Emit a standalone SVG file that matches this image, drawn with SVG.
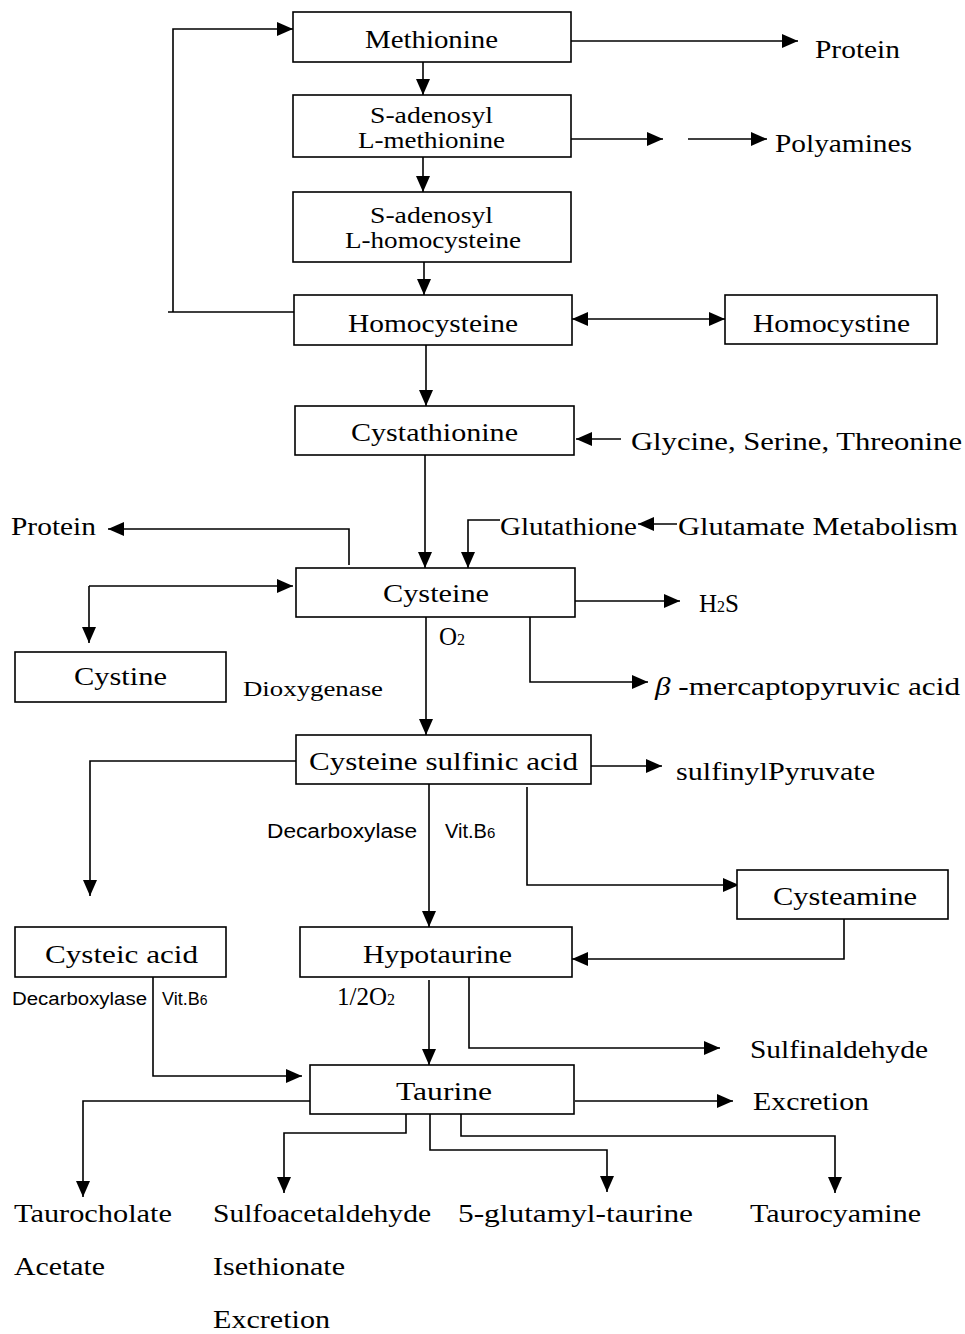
<svg xmlns="http://www.w3.org/2000/svg" width="965" height="1334" viewBox="0 0 965 1334">
<defs>
<marker id="ah" markerUnits="userSpaceOnUse" markerWidth="16" markerHeight="14" refX="16" refY="7" orient="auto-start-reverse" viewBox="0 0 16 14">
<path d="M0,0 L16,7 L0,14 z" fill="#000"/>
</marker>
</defs>
<style>
rect{fill:#fff;stroke:#000;stroke-width:1.6}
text{font-family:"Liberation Serif","DejaVu Serif",serif;font-size:25px;fill:#000}
.s{font-size:23px}
.sm{font-size:20px}
.sans{font-family:"Liberation Sans","DejaVu Sans",sans-serif;font-size:20px}
.sans2{font-family:"Liberation Sans","DejaVu Sans",sans-serif;font-size:18px}
#connectors path{fill:none;stroke:#000;stroke-width:1.6}
.a{marker-end:url(#ah)}
</style>
<rect x="0" y="0" width="965" height="1334" style="fill:#fff;stroke:none"/>
<g id="connectors">
<path class="a" d="M423 62 V95"/>
<path class="a" d="M423 157 V192"/>
<path class="a" d="M424 262 V295"/>
<path class="a" d="M294 312 H168 M173 312 V29 H293"/>
<path class="a" d="M571 41 H798"/>
<path class="a" d="M571 139 H663"/>
<path class="a" d="M688 139 H767"/>
<path class="a" d="M572 319 H725" style="marker-start:url(#ah)"/>
<path class="a" d="M426 345 V406"/>
<path class="a" d="M621 439 H576"/>
<path class="a" d="M425 455 V568"/>
<path class="a" d="M500 520 H468 V568"/>
<path class="a" d="M677 524 H638"/>
<path class="a" d="M349 565 V529 H108"/>
<path class="a" d="M89 586 V643"/>
<path class="a" d="M89 586 H293"/>
<path class="a" d="M575 601 H680"/>
<path class="a" d="M530 617 V682 H648"/>
<path class="a" d="M426 617 V735"/>
<path class="a" d="M591 766 H662"/>
<path class="a" d="M297 761 H90 V896"/>
<path class="a" d="M429 784 V927"/>
<path class="a" d="M527 787 V885 H739"/>
<path class="a" d="M844 919 V959 H572"/>
<path class="a" d="M153 977 V1076 H302"/>
<path class="a" d="M429 980 V1065"/>
<path class="a" d="M469 977 V1048 H720"/>
<path class="a" d="M575 1101 H733"/>
<path class="a" d="M310 1101 H83 V1197"/>
<path class="a" d="M406 1114 V1133 H284 V1193"/>
<path class="a" d="M430 1114 V1150 H607 V1192"/>
<path class="a" d="M461 1114 V1136 H835 V1193"/>
</g>
<g id="methionine"><rect x="293" y="12" width="278" height="50"/><text x="365" y="48" textLength="133" lengthAdjust="spacingAndGlyphs">Methionine</text></g>
<g id="sam"><rect x="293" y="95" width="278" height="62"/><text class="s" x="370" y="123" textLength="123" lengthAdjust="spacingAndGlyphs">S-adenosyl</text><text class="s" x="358" y="148" textLength="147" lengthAdjust="spacingAndGlyphs">L-methionine</text></g>
<g id="sah"><rect x="293" y="192" width="278" height="70"/><text class="s" x="370" y="223" textLength="123" lengthAdjust="spacingAndGlyphs">S-adenosyl</text><text class="s" x="345" y="248" textLength="176" lengthAdjust="spacingAndGlyphs">L-homocysteine</text></g>
<g id="homocysteine"><rect x="294" y="295" width="278" height="50"/><text x="348" y="332" textLength="170" lengthAdjust="spacingAndGlyphs">Homocysteine</text></g>
<g id="homocystine"><rect x="725" y="295" width="212" height="49"/><text x="753" y="332" textLength="157" lengthAdjust="spacingAndGlyphs">Homocystine</text></g>
<g id="protein-top"><text x="815" y="58" textLength="85" lengthAdjust="spacingAndGlyphs">Protein</text></g>
<g id="polyamines"><text x="775" y="152" textLength="137" lengthAdjust="spacingAndGlyphs">Polyamines</text></g>
<g id="cystathionine"><rect x="295" y="406" width="279" height="49"/><text x="351" y="441" textLength="167" lengthAdjust="spacingAndGlyphs">Cystathionine</text></g>
<g id="glycine"><text x="631" y="450" textLength="331" lengthAdjust="spacingAndGlyphs">Glycine, Serine, Threonine</text></g>
<g id="glutathione"><text x="500" y="535" textLength="137" lengthAdjust="spacingAndGlyphs">Glutathione</text></g>
<g id="glutamate"><text x="678" y="535" textLength="280" lengthAdjust="spacingAndGlyphs">Glutamate Metabolism</text></g>
<g id="protein-left"><text x="11" y="535" textLength="85" lengthAdjust="spacingAndGlyphs">Protein</text></g>
<g id="cysteine"><rect x="296" y="568" width="279" height="49"/><text x="383" y="602" textLength="106" lengthAdjust="spacingAndGlyphs">Cysteine</text></g>
<g id="cystine"><rect x="15" y="652" width="211" height="50"/><text x="74" y="685" textLength="93" lengthAdjust="spacingAndGlyphs">Cystine</text></g>
<g id="dioxygenase"><text class="sm" x="243" y="696" textLength="140" lengthAdjust="spacingAndGlyphs">Dioxygenase</text></g>
<g id="h2s"><text x="699" y="612">H<tspan font-size="16">2</tspan>S</text></g>
<g id="o2"><text x="439" y="645">O<tspan font-size="16">2</tspan></text></g>
<g id="mercapto"><text x="655" y="695" textLength="305" lengthAdjust="spacingAndGlyphs"><tspan font-style="italic">β</tspan> -mercaptopyruvic acid</text></g>
<g id="csa"><rect x="296" y="735" width="295" height="49"/><text x="309" y="770" textLength="269" lengthAdjust="spacingAndGlyphs">Cysteine sulfinic acid</text></g>
<g id="sulfinylpyruvate"><text x="676" y="780" textLength="199" lengthAdjust="spacingAndGlyphs">sulfinylPyruvate</text></g>
<g id="decarb1"><text class="sans" x="267" y="838" textLength="150" lengthAdjust="spacingAndGlyphs">Decarboxylase</text><text class="sans" x="445" y="838">Vit.B<tspan font-size="15">6</tspan></text></g>
<g id="cysteamine"><rect x="737" y="870" width="211" height="49"/><text x="773" y="905" textLength="144" lengthAdjust="spacingAndGlyphs">Cysteamine</text></g>
<g id="hypotaurine"><rect x="300" y="927" width="272" height="50"/><text x="363" y="963" textLength="149" lengthAdjust="spacingAndGlyphs">Hypotaurine</text></g>
<g id="cysteic"><rect x="15" y="927" width="211" height="50"/><text x="45" y="963" textLength="153" lengthAdjust="spacingAndGlyphs">Cysteic acid</text></g>
<g id="decarb2"><text class="sans2" x="12" y="1005" textLength="135" lengthAdjust="spacingAndGlyphs">Decarboxylase</text><text class="sans2" x="162" y="1005">Vit.B<tspan font-size="14">6</tspan></text></g>
<g id="halfo2"><text x="337" y="1005">1/2O<tspan font-size="16">2</tspan></text></g>
<g id="sulfinaldehyde"><text x="750" y="1058" textLength="178" lengthAdjust="spacingAndGlyphs">Sulfinaldehyde</text></g>
<g id="taurine"><rect x="310" y="1065" width="264" height="49"/><text x="396" y="1100" textLength="96" lengthAdjust="spacingAndGlyphs">Taurine</text></g>
<g id="excretion1"><text x="753" y="1110" textLength="116" lengthAdjust="spacingAndGlyphs">Excretion</text></g>
<g id="taurocholate"><text x="14" y="1222" textLength="158" lengthAdjust="spacingAndGlyphs">Taurocholate</text><text x="14" y="1275" textLength="91" lengthAdjust="spacingAndGlyphs">Acetate</text></g>
<g id="sulfoacetaldehyde"><text x="213" y="1222" textLength="218" lengthAdjust="spacingAndGlyphs">Sulfoacetaldehyde</text><text x="213" y="1275" textLength="132" lengthAdjust="spacingAndGlyphs">Isethionate</text><text x="213" y="1328" textLength="117" lengthAdjust="spacingAndGlyphs">Excretion</text></g>
<g id="glutamyl"><text x="458" y="1222" textLength="235" lengthAdjust="spacingAndGlyphs">5-glutamyl-taurine</text></g>
<g id="taurocyamine"><text x="750" y="1222" textLength="171" lengthAdjust="spacingAndGlyphs">Taurocyamine</text></g>
</svg>
